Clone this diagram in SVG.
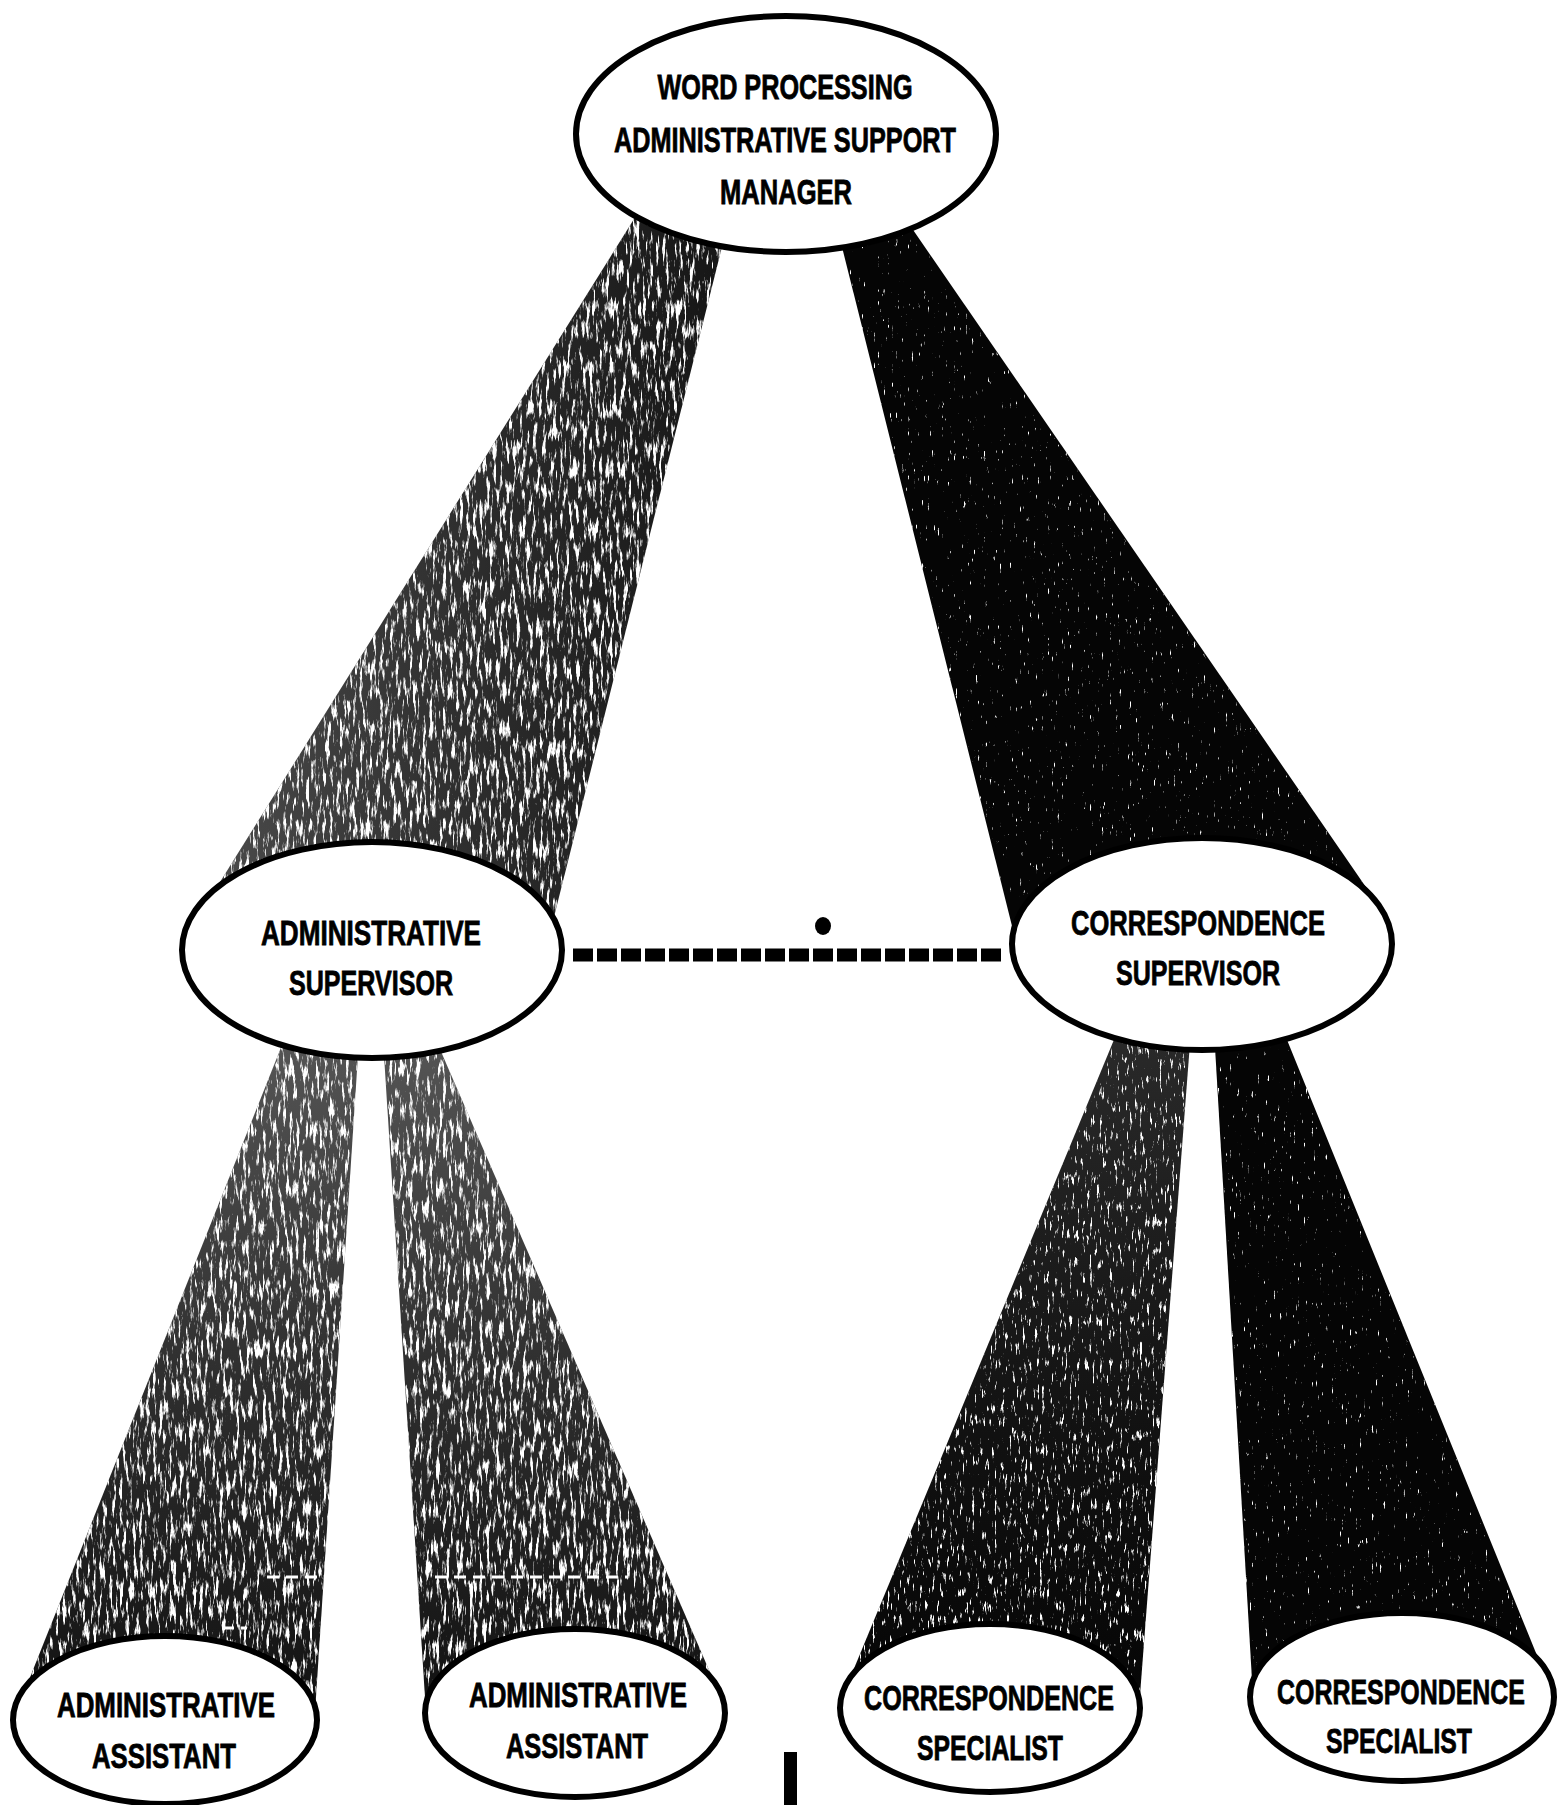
<svg xmlns="http://www.w3.org/2000/svg" width="1564" height="1805" viewBox="0 0 1564 1805">
<style>
.node ellipse{fill:#fff;stroke:#000;stroke-width:6}
.node text{font-family:"Liberation Sans Narrow","Liberation Sans",Arial,sans-serif;font-weight:bold;font-size:35px;fill:#000;stroke:#000;stroke-width:0.8;text-anchor:middle}
.black{fill:#050505;filter:url(#grainR)}
.scratch{stroke:#fff;stroke-width:3;fill:none;stroke-dasharray:12 7}
</style>
<defs>
<linearGradient id="gMain" x1="0" y1="0" x2="1" y2="0">
<stop offset="0" stop-color="#4a4a4a"/>
<stop offset="0.55" stop-color="#2a2a2a"/>
<stop offset="1" stop-color="#151515"/>
</linearGradient>
<linearGradient id="gSub" x1="0" y1="0" x2="0" y2="1">
<stop offset="0" stop-color="#555"/>
<stop offset="0.5" stop-color="#2e2e2e"/>
<stop offset="1" stop-color="#111"/>
</linearGradient>
<linearGradient id="gC1" x1="0" y1="0" x2="0" y2="1">
<stop offset="0" stop-color="#2a2a2a"/>
<stop offset="0.6" stop-color="#111"/>
<stop offset="1" stop-color="#050505"/>
</linearGradient>
<filter id="grainL" x="0" y="0" width="1" height="1" color-interpolation-filters="sRGB">
<feTurbulence type="fractalNoise" baseFrequency="0.3 0.05" numOctaves="4" seed="7" result="n"/>
<feColorMatrix in="n" type="matrix" values="0 0 0 0 1 0 0 0 0 1 0 0 0 0 1 7 0 0 0 -3.7" result="w"/>
<feComposite in="w" in2="SourceGraphic" operator="in" result="wi"/>
<feMerge><feMergeNode in="SourceGraphic"/><feMergeNode in="wi"/></feMerge>
</filter>
<filter id="grainM" x="0" y="0" width="1" height="1" color-interpolation-filters="sRGB">
<feTurbulence type="fractalNoise" baseFrequency="0.4 0.07" numOctaves="4" seed="11" result="n"/>
<feColorMatrix in="n" type="matrix" values="0 0 0 0 1 0 0 0 0 1 0 0 0 0 1 8 0 0 0 -5" result="w"/>
<feComposite in="w" in2="SourceGraphic" operator="in" result="wi"/>
<feMerge><feMergeNode in="SourceGraphic"/><feMergeNode in="wi"/></feMerge>
</filter>
<filter id="grainR" x="0" y="0" width="1" height="1" color-interpolation-filters="sRGB">
<feTurbulence type="fractalNoise" baseFrequency="0.5 0.08" numOctaves="4" seed="3" result="n"/>
<feColorMatrix in="n" type="matrix" values="0 0 0 0 1 0 0 0 0 1 0 0 0 0 1 9 0 0 0 -6.5" result="w"/>
<feComposite in="w" in2="SourceGraphic" operator="in" result="wi"/>
<feMerge><feMergeNode in="SourceGraphic"/><feMergeNode in="wi"/></feMerge>
</filter>
</defs>
<rect width="1564" height="1805" fill="#fff"/>
<g id="connectors">
<polygon id="beam-manager-admin" fill="url(#gMain)" filter="url(#grainL)" points="649,195 735,195 553,921 540,950 372,952 215,890"/>
<polygon id="beam-manager-corr" class="black" points="829,195 889,195 1381,909 1370,935 1202,944 1018,950"/>
<polygon id="beam-admin-asst1" fill="url(#gSub)" filter="url(#grainL)" points="284,1040 359,1040 315,1712 165,1720 21,1700"/>
<polygon id="beam-admin-asst2" fill="url(#gSub)" filter="url(#grainL)" points="383,1040 436,1040 722,1700 575,1713 426,1713"/>
<polygon id="beam-corr-spec1" fill="url(#gC1)" filter="url(#grainM)" points="1118,1030 1191,1030 1139,1708 990,1708 841,1700"/>
<polygon id="beam-corr-spec2" class="black" points="1214,1030 1283,1030 1551,1690 1402,1697 1253,1697"/>
<line id="dashed-link" x1="573" y1="955" x2="1003" y2="955" stroke="#000" stroke-width="13" stroke-dasharray="20 4"/>
<line class="scratch" x1="267" y1="1577" x2="325" y2="1577"/>
<line class="scratch" x1="435" y1="1577" x2="628" y2="1577"/>
<line class="scratch" x1="222" y1="1628" x2="247" y2="1628"/>
</g>
<ellipse cx="823" cy="926" rx="8" ry="9" fill="#000"/>
<rect x="784" y="1752" width="13" height="53" fill="#000"/>
<g id="manager" class="node">
<ellipse cx="786" cy="134" rx="210" ry="118"/>
<text x="785" y="99" textLength="255" lengthAdjust="spacingAndGlyphs">WORD PROCESSING</text>
<text x="785" y="152" textLength="342" lengthAdjust="spacingAndGlyphs">ADMINISTRATIVE SUPPORT</text>
<text x="786" y="204" textLength="132" lengthAdjust="spacingAndGlyphs">MANAGER</text>
</g>
<g id="admin-supervisor" class="node">
<ellipse cx="372" cy="950" rx="190" ry="108"/>
<text x="371" y="945" textLength="220" lengthAdjust="spacingAndGlyphs">ADMINISTRATIVE</text>
<text x="371" y="995" textLength="164" lengthAdjust="spacingAndGlyphs">SUPERVISOR</text>
</g>
<g id="corr-supervisor" class="node">
<ellipse cx="1202" cy="944" rx="190" ry="106"/>
<text x="1198" y="935" textLength="254" lengthAdjust="spacingAndGlyphs">CORRESPONDENCE</text>
<text x="1198" y="985" textLength="164" lengthAdjust="spacingAndGlyphs">SUPERVISOR</text>
</g>
<g id="admin-assistant-1" class="node">
<ellipse cx="165" cy="1720" rx="152" ry="84"/>
<text x="166" y="1717" textLength="218" lengthAdjust="spacingAndGlyphs">ADMINISTRATIVE</text>
<text x="164" y="1768" textLength="144" lengthAdjust="spacingAndGlyphs">ASSISTANT</text>
</g>
<g id="admin-assistant-2" class="node">
<ellipse cx="575" cy="1713" rx="150" ry="84"/>
<text x="578" y="1707" textLength="218" lengthAdjust="spacingAndGlyphs">ADMINISTRATIVE</text>
<text x="577" y="1758" textLength="142" lengthAdjust="spacingAndGlyphs">ASSISTANT</text>
</g>
<g id="corr-specialist-1" class="node">
<ellipse cx="990" cy="1708" rx="150" ry="84"/>
<text x="989" y="1710" textLength="250" lengthAdjust="spacingAndGlyphs">CORRESPONDENCE</text>
<text x="990" y="1760" textLength="146" lengthAdjust="spacingAndGlyphs">SPECIALIST</text>
</g>
<g id="corr-specialist-2" class="node">
<ellipse cx="1402" cy="1697" rx="152" ry="84"/>
<text x="1401" y="1704" textLength="248" lengthAdjust="spacingAndGlyphs">CORRESPONDENCE</text>
<text x="1399" y="1753" textLength="146" lengthAdjust="spacingAndGlyphs">SPECIALIST</text>
</g>
</svg>
